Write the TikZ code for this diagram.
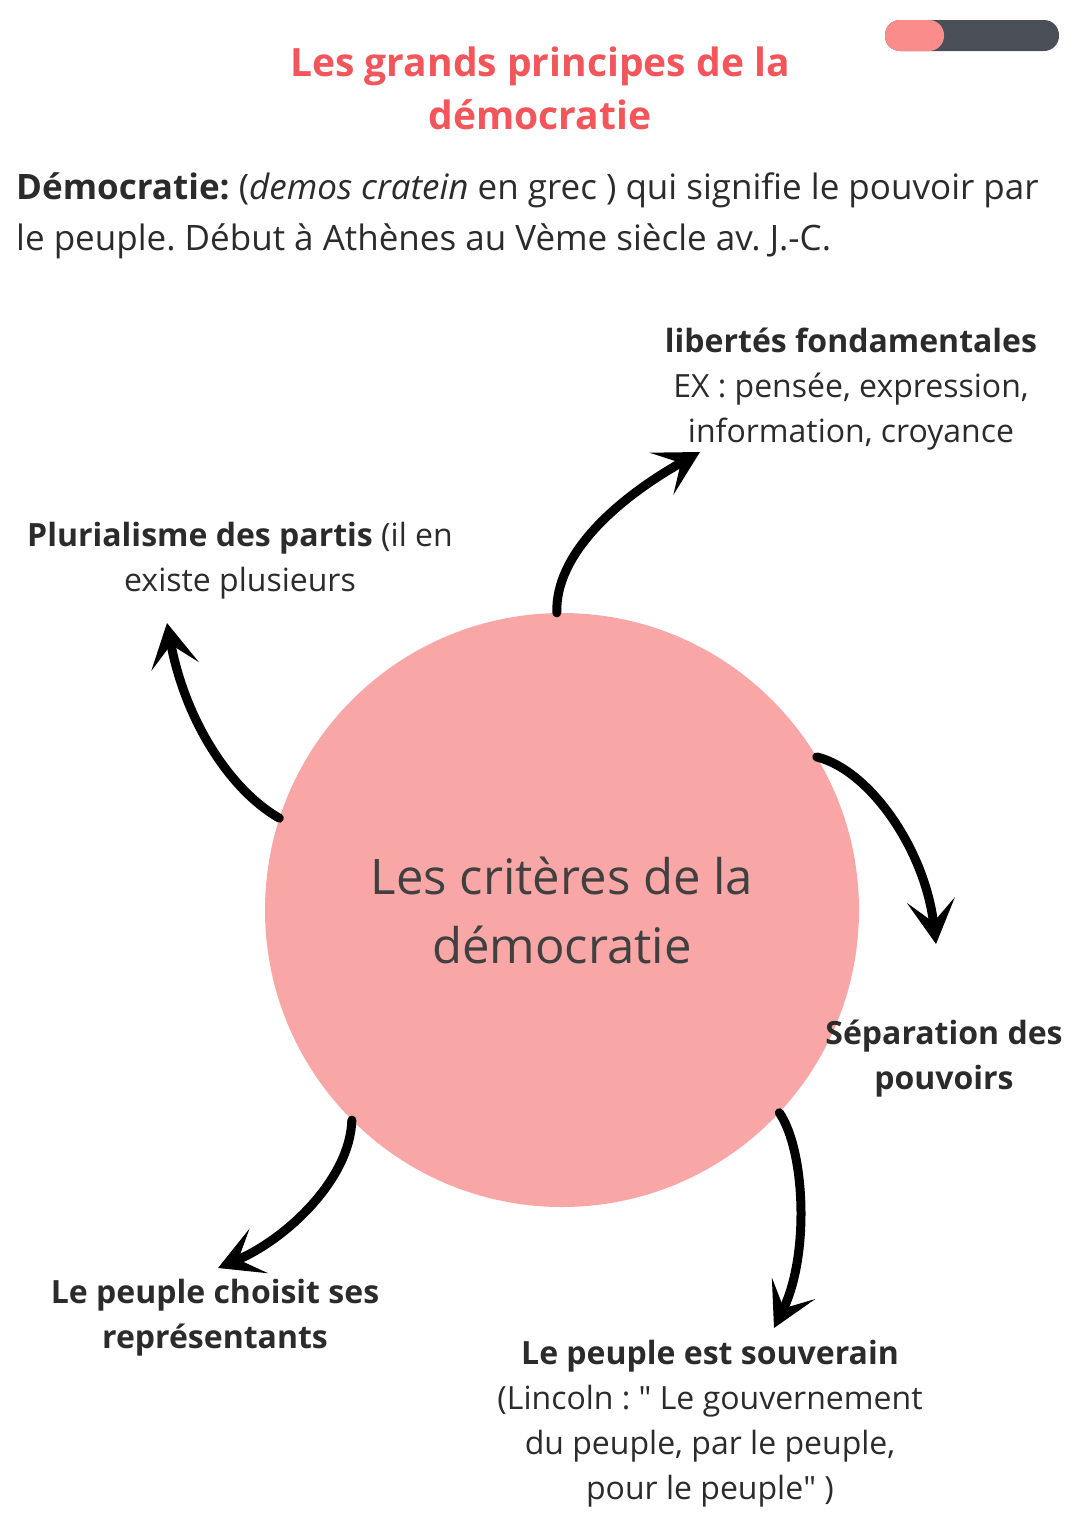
\documentclass[tikz,border=0pt]{standalone}
\usepackage{fontspec}
\setmainfont{Open Sans}
\newfontfamily\quotefont{Open Sans}[Ligatures=ResetAll]
\usepackage{xcolor}
\usepackage{tikz}
\usetikzlibrary{arrows.meta}
\frenchspacing

\definecolor{titlered}{HTML}{F2555A}
\definecolor{discpink}{HTML}{F9A7A6}
\definecolor{barpink}{HTML}{FA8C8C}
\definecolor{bargray}{HTML}{4A4F57}
\definecolor{textgray}{HTML}{2B2B2B}
\newcommand{\dq}{{\quotefont"}}

\tikzset{
    infotext/.style={align=center, text=textgray, font=\fontsize{32}{45}\selectfont, inner sep=0pt},
    bigarrow/.style={line width=9pt, line cap=round, arrows={-Stealth[length=44pt 0, width=48pt 0, inset=22pt 0]}}
}

\begin{document}
\begin{tikzpicture}[x=1pt,y=-1pt]
    \useasboundingbox (0,0) rectangle (1080,1527);
    % Header
    \fill[bargray, rounded corners=15pt] (885,20) rectangle (1059,51);
    \fill[barpink, rounded corners=15pt] (885,20) rectangle (944,51);
    \node[align=center, text=titlered, font=\bfseries\fontsize{39}{53}\selectfont, inner sep=0pt] (title) at (540,88) {Les grands principes de la\\démocratie};
    \node[anchor=north west, align=left, text=textgray, font=\fontsize{35}{51}\selectfont, inner sep=0pt] (def) at (16,172)
        {\textbf{Démocratie:} (\textit{demos cratein} en grec ) qui signifie le pouvoir par\\le peuple. Début à Athènes au Vème siècle av. J.-C.};

    % Nodes
    \node[circle, fill=discpink, minimum size=594pt, inner sep=0pt] (crit) at (562,910) {};
    \node[align=center, text=textgray!90, font=\fontsize{49}{69}\selectfont] (critlbl) at (562,910) {Les critères de la\\démocratie};
    \node[infotext] (lib) at (851,389) {\textbf{libertés fondamentales}\\EX : pensée, expression,\\information, croyance};
    \node[infotext] (plur) at (240,561) {\textbf{Plurialisme des partis} (il en\\existe plusieurs};
    \node[infotext] (sep) at (944,1059) {\textbf{Séparation des}\\\textbf{pouvoirs}};
    \node[infotext] (repr) at (215,1318) {\textbf{Le peuple choisit ses}\\\textbf{représentants}};
    \node[infotext] (souv) at (710,1424) {\textbf{Le peuple est souverain}\\(Lincoln : \dq{} Le gouvernement\\du peuple, par le peuple,\\pour le peuple\dq{} )};

    % Arrow ends
    \coordinate (t1) at (700,452);
    \coordinate (t2) at (167,623);
    \coordinate (t3) at (936,944);
    \coordinate (t4) at (774,1328);
    \coordinate (t5) at (218,1268);

    % Edges
    \draw[bigarrow] (crit.91) .. controls (555,555) and (615,500) .. (t1);
    \draw[bigarrow] (crit.162) .. controls (230,790) and (185,720) .. (t2);
    \draw[bigarrow] (crit.31) .. controls (870,770) and (925,850) .. (t3);
    \draw[bigarrow] (crit.-43) .. controls (805,1150) and (810,1255) .. (t4);
    \draw[bigarrow] (crit.-135) .. controls (350,1180) and (285,1240) .. (t5);
\end{tikzpicture}
\end{document}
